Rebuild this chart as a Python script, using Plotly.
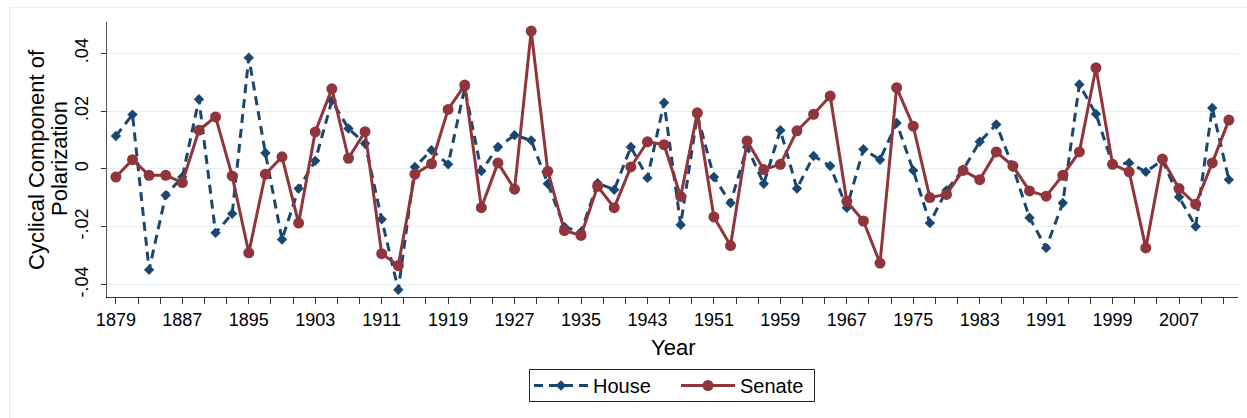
import plotly.graph_objects as go

years = [1879, 1881, 1883, 1885, 1887, 1889, 1891, 1893, 1895, 1897,
         1899, 1901, 1903, 1905, 1907, 1909, 1911, 1913, 1915, 1917,
         1919, 1921, 1923, 1925, 1927, 1929, 1931, 1933, 1935, 1937,
         1939, 1941, 1943, 1945, 1947, 1949, 1951, 1953, 1955, 1957,
         1959, 1961, 1963, 1965, 1967, 1969, 1971, 1973, 1975, 1977,
         1979, 1981, 1983, 1985, 1987, 1989, 1991, 1993, 1995, 1997,
         1999, 2001, 2003, 2005, 2007, 2009, 2011, 2013]

house = [0.0114, 0.0188, -0.0349, -0.0091, -0.0028, 0.0241, -0.0221, -0.0155, 0.0385, 0.0055,
         -0.0244, -0.0068, 0.0028, 0.0236, 0.0140, 0.0088, -0.0174, -0.0418, 0.0007, 0.0065,
         0.0016, 0.0280, -0.0007, 0.0076, 0.0117, 0.0099, -0.0051, -0.0201, -0.0218, -0.0049,
         -0.0072, 0.0076, -0.0031, 0.0229, -0.0193, 0.0186, -0.0028, -0.0118, 0.0076, -0.0051,
         0.0134, -0.0068, 0.0045, 0.0010, -0.0134, 0.0068, 0.0032, 0.0159, -0.0005, -0.0187,
         -0.0074, -0.0003, 0.0094, 0.0154, 0.0007, -0.0169, -0.0273, -0.0118, 0.0292, 0.0190,
         0.0016, 0.0021, -0.0010, 0.0030, -0.0097, -0.0199, 0.0211, -0.0037]

senate = [-0.0028, 0.0032, -0.0022, -0.0022, -0.0047, 0.0134, 0.0180, -0.0024, -0.0290, -0.0018,
          0.0042, -0.0187, 0.0128, 0.0277, 0.0037, 0.0129, -0.0293, -0.0334, -0.0018, 0.0018,
          0.0206, 0.0290, -0.0134, 0.0021, -0.0070, 0.0477, -0.0008, -0.0213, -0.0230, -0.0060,
          -0.0134, 0.0007, 0.0094, 0.0084, -0.0095, 0.0194, -0.0166, -0.0265, 0.0097, -0.0002,
          0.0016, 0.0132, 0.0189, 0.0252, -0.0112, -0.0180, -0.0326, 0.0281, 0.0148, -0.0099,
          -0.0088, -0.0005, -0.0037, 0.0059, 0.0010, -0.0076, -0.0094, -0.0022, 0.0059, 0.0350,
          0.0016, -0.0010, -0.0273, 0.0034, -0.0068, -0.0122, 0.0021, 0.0169]

x_major = [1879, 1887, 1895, 1903, 1911, 1919, 1927, 1935, 1943, 1951,
           1959, 1967, 1975, 1983, 1991, 1999, 2007]
y_ticks = [-0.04, -0.02, 0, 0.02, 0.04]
y_ticktext = ["-.04", "-.02", "0", ".02", ".04"]

NAVY = "#1a476f"
MAROON = "#90353b"
FONT = "Liberation Sans, Arial, Helvetica, sans-serif"

# x tick positions: majors plus two minor ticks between each pair
tickvals, ticktext = [], []
for yv in x_major:
    for k in range(3):
        tickvals.append(yv + k * 8 / 3)
        ticktext.append(str(yv) if k == 0 else "")

fig = go.Figure()
fig.add_trace(go.Scatter(
    x=years, y=house, name="House", mode="lines+markers",
    line=dict(color=NAVY, width=3, dash="9px,6px"),
    marker=dict(symbol="diamond", size=8, color=NAVY),
))
fig.add_trace(go.Scatter(
    x=years, y=senate, name="Senate", mode="lines+markers",
    line=dict(color=MAROON, width=3),
    marker=dict(symbol="circle", size=11, color=MAROON),
))

L, R, T, B = 107, 9, 22, 121
W, H = 1247, 418
pw, ph = W - L - R, H - T - B


def px_x(px):
    return (px - L) / pw


def px_y(py):
    return (T + ph - py) / ph


fig.update_layout(
    width=W, height=H,
    margin=dict(l=L, r=R, t=T, b=B),
    paper_bgcolor="white", plot_bgcolor="white",
    font=dict(family=FONT, size=18, color="black"),
    showlegend=True,
    legend=dict(
        orientation="h", x=px_x(529), xanchor="left", y=px_y(385.5), yanchor="middle",
        borderwidth=0, font=dict(size=20),
        itemwidth=54, entrywidth=78, traceorder="normal",
        bgcolor="rgba(0,0,0,0)",
    ),
    xaxis=dict(
        range=[1877.93, 2014.1], tickmode="array", tickvals=tickvals, ticktext=ticktext,
        ticks="outside", ticklen=6, tickcolor="#333", tickwidth=1,
        showline=True, linecolor="#333", linewidth=1, showgrid=False, zeroline=False,
        tickfont=dict(size=18),
    ),
    yaxis=dict(
        range=[-0.04429, 0.05083], tickmode="array", tickvals=y_ticks, ticktext=y_ticktext,
        ticks="outside", ticklen=5, tickcolor="#333", tickwidth=1, tickangle=-90,
        showline=True, linecolor="#555", linewidth=1,
        showgrid=True, gridcolor="#e7eff0", gridwidth=1, zeroline=False,
        tickfont=dict(size=18), ticklabelstandoff=6,
    ),
    annotations=[
        dict(text="Cyclical Component of", textangle=-90,
             xref="paper", yref="paper", x=px_x(36), y=px_y(160),
             xanchor="center", yanchor="middle", showarrow=False,
             font=dict(size=22)),
        dict(text="Polarization", textangle=-90,
             xref="paper", yref="paper", x=px_x(59), y=px_y(159),
             xanchor="center", yanchor="middle", showarrow=False,
             font=dict(size=22)),
        dict(text="Year", xref="paper", yref="paper", x=0.5, y=px_y(347),
             xanchor="center", yanchor="middle", showarrow=False,
             font=dict(size=22)),
    ],
    shapes=[
        dict(type="rect", xref="paper", yref="paper",
             x0=px_x(9.5), x1=px_x(1260), y0=px_y(430), y1=px_y(7.5),
             line=dict(color="#e6eef0", width=1), layer="below"),
        dict(type="rect", xref="paper", yref="paper",
             x0=px_x(529.5), x1=px_x(814.5), y0=px_y(401.5), y1=px_y(369.5),
             line=dict(color="#222", width=1), fillcolor="rgba(0,0,0,0)", layer="below"),
    ],
)

fig.write_html(
    "out.html",
    config={"displayModeBar": False},
    post_script="document.body.style.margin='0';document.body.style.overflow='hidden';",
)
